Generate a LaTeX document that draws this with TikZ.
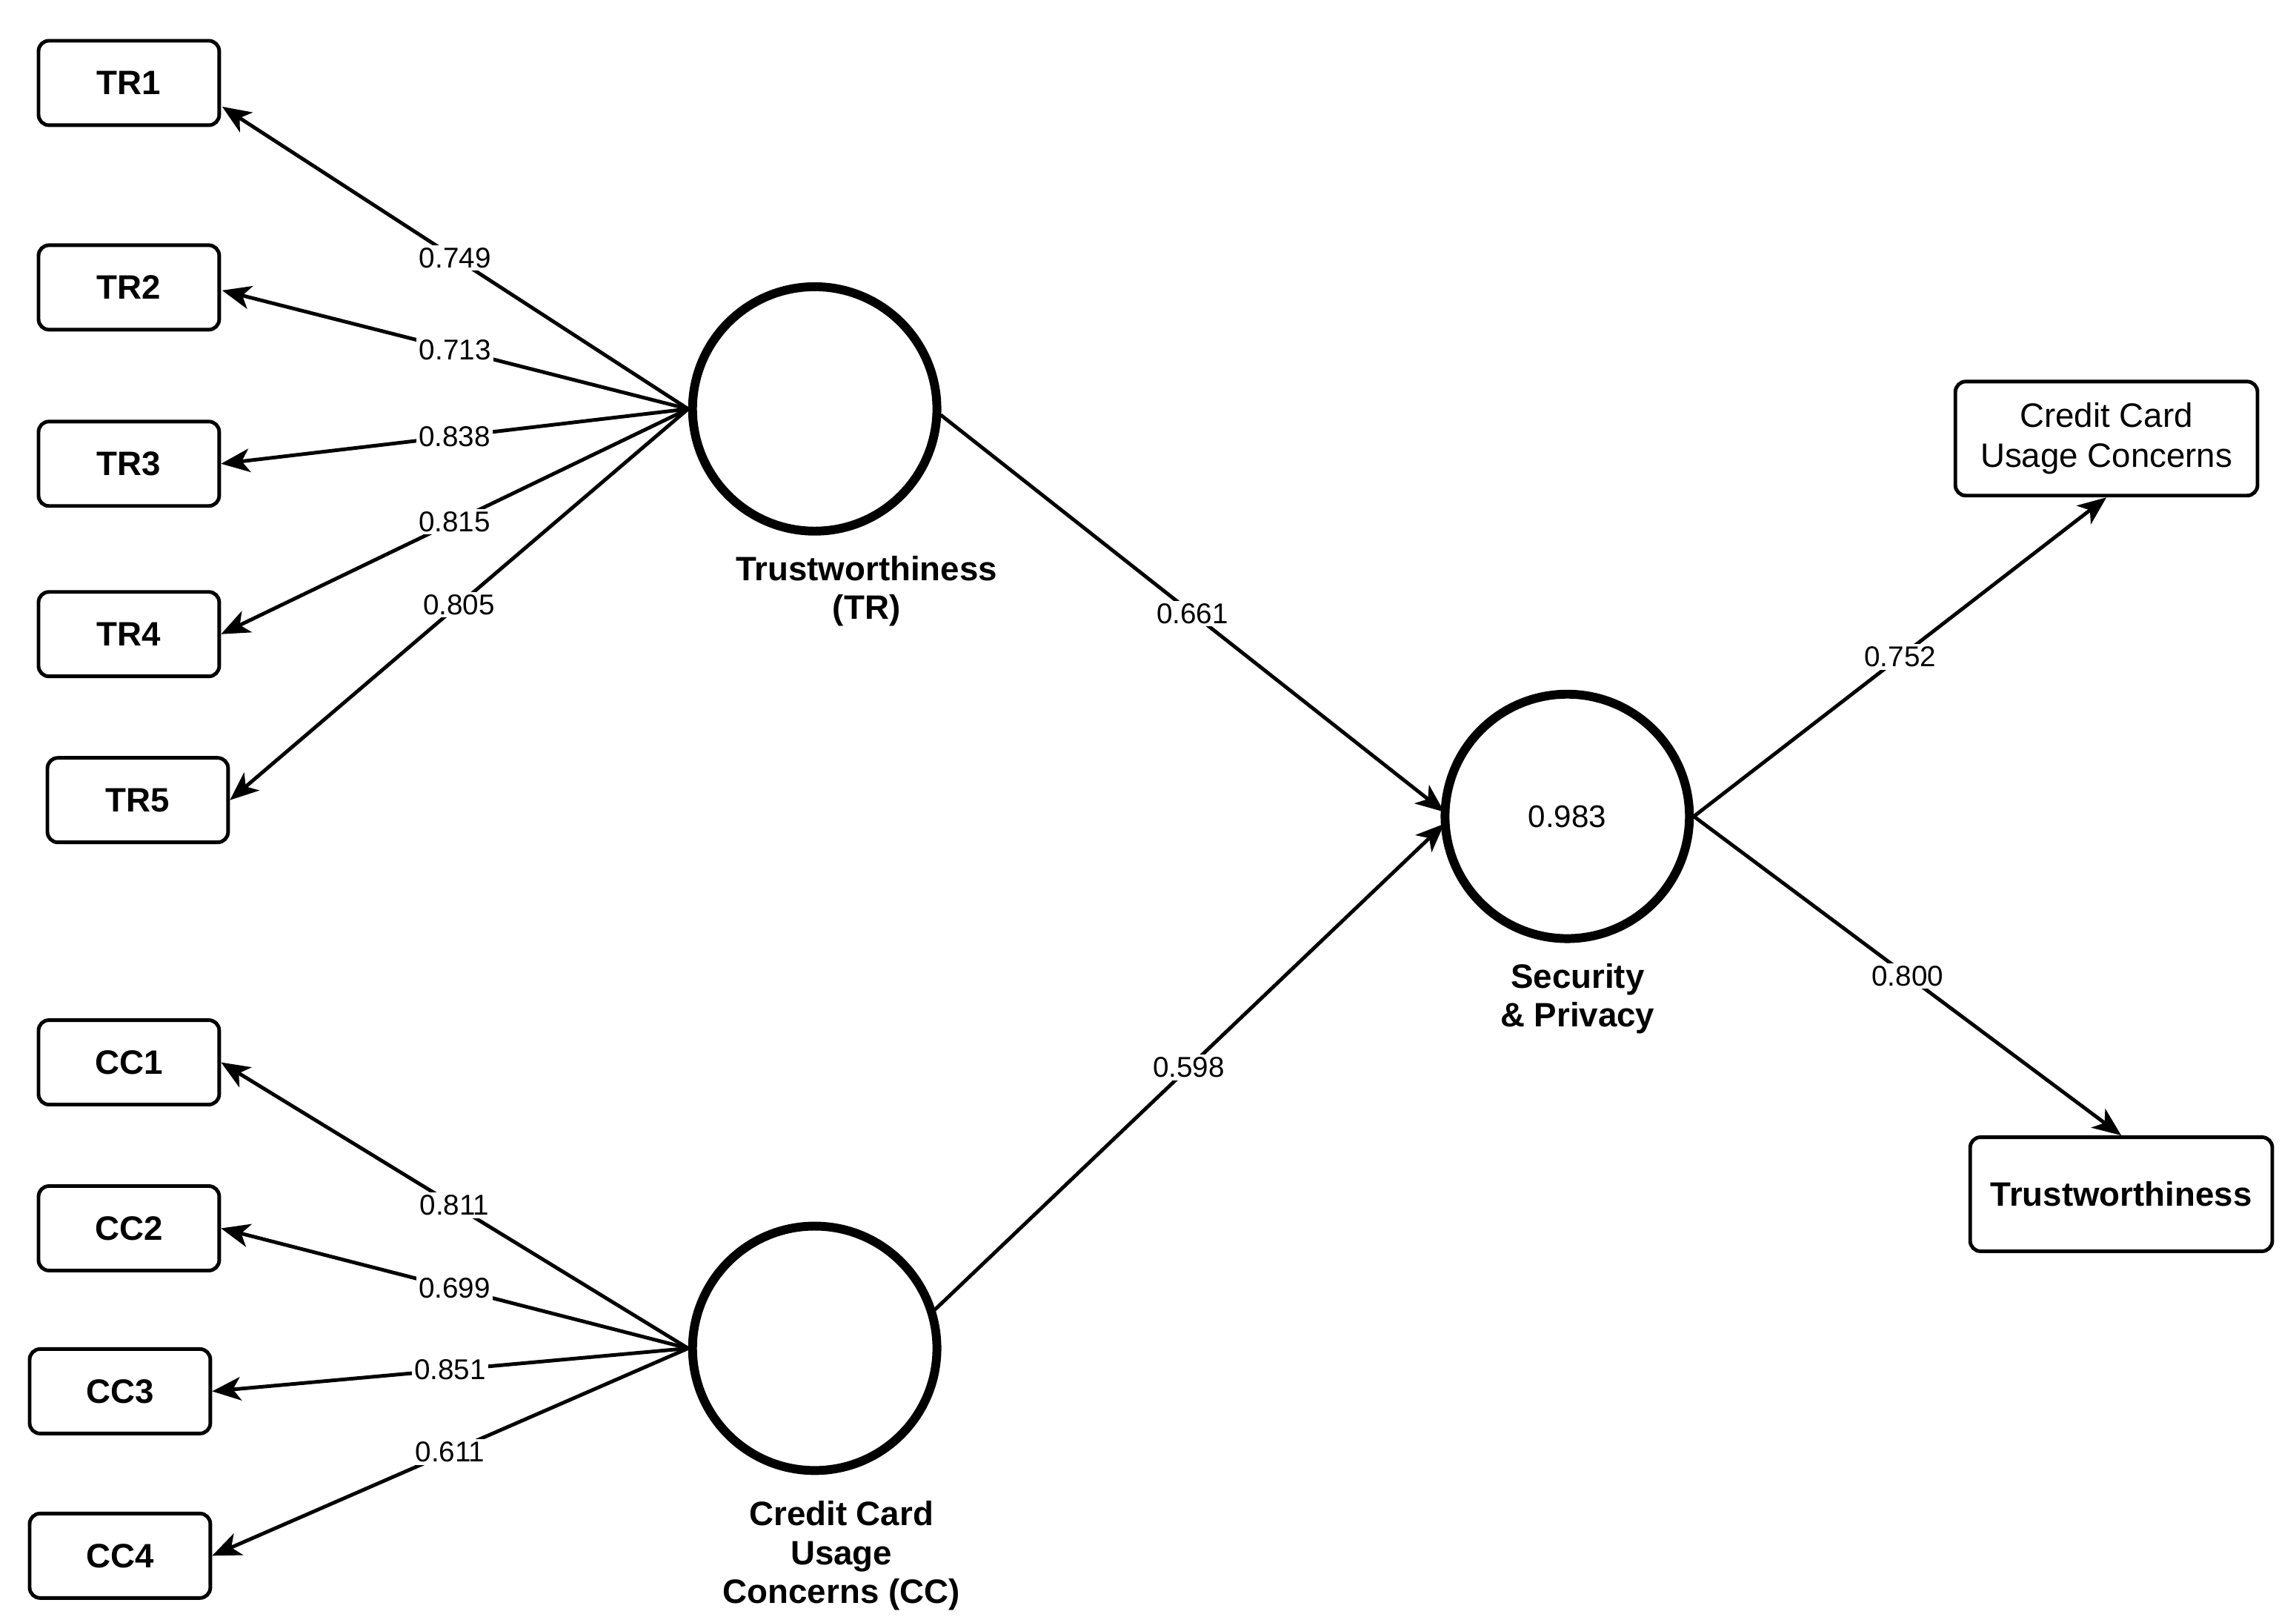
\documentclass[tikz,border=0pt]{standalone}
\usepackage{fontspec}
\setmainfont{Liberation Sans}
\usetikzlibrary{arrows.meta}
\begin{document}
\begin{tikzpicture}[x=0.02cm,y=-0.02cm,
 box/.style={draw,line width=1.4pt,rounded corners=4pt,minimum width=2.44cm,minimum height=1.14cm,font=\fontsize{13}{15}\selectfont\bfseries,inner sep=1pt},
 lat/.style={draw,circle,line width=3.4pt,minimum size=3.3cm,font=\fontsize{12}{14}\selectfont},
 lbl/.style={font=\fontsize{13}{15}\selectfont\bfseries,align=center},
 ar/.style={-{Stealth[length=11pt,width=9pt,inset=3pt]},line width=1.4pt},
 val/.style={fill=white,inner sep=1pt,font=\fontsize{11}{13}\selectfont}]
\useasboundingbox (0,0) rectangle (1550,1091);
\node[box] (tr1) at (87,56) {TR1};
\node[box] (tr2) at (87,194) {TR2};
\node[box] (tr3) at (87,313) {TR3};
\node[box] (tr4) at (87,428) {TR4};
\node[box] (tr5) at (93,540) {TR5};
\node[box] (cc1) at (87,717) {CC1};
\node[box] (cc2) at (87,829) {CC2};
\node[box] (cc3) at (81,939) {CC3};
\node[box] (cc4) at (81,1050) {CC4};
\node[lat] (tr) at (550,276) {};
\node[lat] (cc) at (550,910) {};
\node[lat] (sp) at (1058,551) {0.983};
\node[lbl] (trl) at (585,399) {Trustworthiness\\(TR)};
\node[lbl] (spl) at (1065,674) {Security\\\& Privacy};
\node[lbl] (ccl) at (568,1050) {Credit Card\\Usage\\Concerns (CC)};
\node[box,minimum width=4.08cm,minimum height=1.54cm,font=\fontsize{13}{15.5}\selectfont,align=center] (rc) at (1422,296) {Credit Card\\Usage Concerns};
\node[box,minimum width=4.08cm,minimum height=1.54cm] (rt) at (1432,806) {Trustworthiness};
\coordinate (a1) at (150,72);
\coordinate (a2) at (150,196);
\coordinate (s1) at (975,548);
\coordinate (s2) at (975,556);
\coordinate (t0) at (635,280);
\coordinate (c0) at (630,885);
\draw[ar] (tr.west) -- node[val]{0.749} (a1);
\draw[ar] (tr.west) -- node[val]{0.713} (a2);
\draw[ar] (tr.west) -- node[val]{0.838} (tr3.east);
\draw[ar] (tr.west) -- node[val]{0.815} (tr4.east);
\draw[ar] (tr.west) -- node[val]{0.805} (tr5.east);
\draw[ar] (cc.west) -- node[val]{0.811} (cc1.east);
\draw[ar] (cc.west) -- node[val]{0.699} (cc2.east);
\draw[ar] (cc.west) -- node[val]{0.851} (cc3.east);
\draw[ar] (cc.west) -- node[val]{0.611} (cc4.east);
\draw[ar] (t0) -- node[val]{0.661} (s1);
\draw[ar] (c0) -- node[val]{0.598} (s2);
\draw[ar] (sp.east) -- node[val]{0.752} (rc.south);
\draw[ar] (sp.east) -- node[val]{0.800} (rt.north);
\end{tikzpicture}
\end{document}
